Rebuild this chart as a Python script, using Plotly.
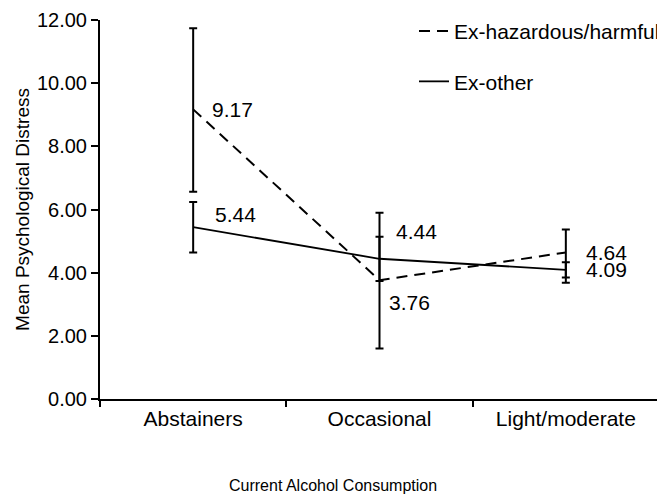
import plotly.graph_objects as go

categories = ["Abstainers", "Occasional", "Light/moderate"]
series_names = ["Ex-hazardous/harmful", "Ex-other"]
ex_hazardous = [9.17, 3.76, 4.64]
ex_hazardous_err_plus = [2.57, 2.14, 0.73]
ex_hazardous_err_minus = [2.61, 2.16, 0.96]
ex_other = [5.44, 4.44, 4.09]
ex_other_err_plus = [0.80, 0.70, 0.24]
ex_other_err_minus = [0.80, 0.70, 0.24]
y_ticks = [0, 2, 4, 6, 8, 10, 12]

FONT = "Liberation Sans, Arial, sans-serif"

fig = go.Figure()
fig.add_trace(go.Scatter(
    x=categories, y=ex_hazardous, name=series_names[0], mode="lines",
    line=dict(color="black", width=2, dash="11px,7px"),
    error_y=dict(type="data", symmetric=False, array=ex_hazardous_err_plus,
                 arrayminus=ex_hazardous_err_minus, color="black", thickness=2, width=4),
    legendgroup="a",
))
fig.add_trace(go.Scatter(
    x=categories, y=ex_other, name=series_names[1], mode="lines",
    line=dict(color="black", width=1.8),
    error_y=dict(type="data", symmetric=False, array=ex_other_err_plus,
                 arrayminus=ex_other_err_minus, color="black", thickness=2, width=4),
    legendgroup="b",
))

# value labels
label_shifts_h = [(17, 0), (7, -22), (18, 0)]
label_shifts_o = [(20, 13), (14, 27), (18, 0)]
for vals, shifts in ((ex_hazardous, label_shifts_h), (ex_other, label_shifts_o)):
    for c, v, (dx, dy) in zip(categories, vals, shifts):
        fig.add_annotation(x=c, y=v, xref="x", yref="y", text=f"{v:.2f}",
                           showarrow=False, xanchor="left", yanchor="middle",
                           xshift=dx, yshift=dy,
                           font=dict(family=FONT, size=21, color="black"))

fig.add_annotation(x=0.416, y=-0.2, xref="paper", yref="paper",
                   text="Current Alcohol Consumption", showarrow=False,
                   xanchor="center", yanchor="top",
                   font=dict(family=FONT, size=16, color="black"))

fig.update_layout(
    width=657, height=491,
    margin=dict(l=92, r=0, t=12, b=100),
    paper_bgcolor="white", plot_bgcolor="white",
    font=dict(family=FONT, color="black"),
    showlegend=True,
    legend=dict(x=0.562, y=1.024, xanchor="left", yanchor="top",
                font=dict(family=FONT, size=21, color="black"),
                tracegroupgap=20, bgcolor="rgba(0,0,0,0)"),
    xaxis=dict(type="category", range=[-0.5, 2.5], showline=True, linecolor="black",
               linewidth=2, ticks="outside", tickson="boundaries", ticklen=6,
               tickwidth=2, tickcolor="black", showgrid=False, zeroline=False,
               tickfont=dict(family=FONT, size=21, color="black")),
    yaxis=dict(range=[0, 12], tickvals=y_ticks, tickformat=".2f", showline=True,
               linecolor="black", linewidth=2, ticks="outside", ticklen=7,
               tickwidth=2, tickcolor="black", showgrid=False, zeroline=False,
               tickfont=dict(family=FONT, size=20, color="black"),
               title=dict(text="Mean Psychological Distress",
                          font=dict(family=FONT, size=19, color="black"), standoff=2)),
)

fig.write_html("out.html")
